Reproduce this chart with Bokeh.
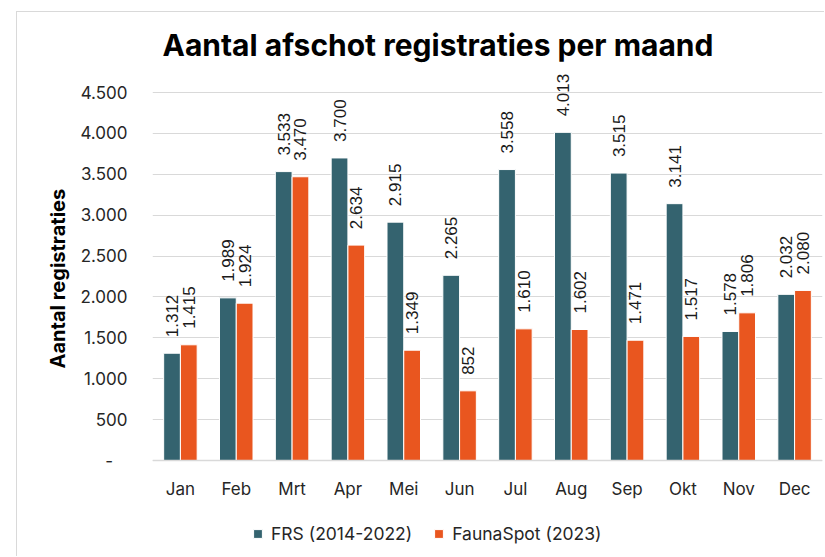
import math
from bokeh.plotting import figure
from bokeh.models import (ColumnDataSource, FactorRange, Range1d, FixedTicker,
                          CustomJSTickFormatter, LabelSet, Legend, LegendItem, Title)
from bokeh.core.properties import value
from bokeh.transform import dodge
from bokeh.embed import file_html
from bokeh.resources import INLINE

months = ["Jan", "Feb", "Mrt", "Apr", "Mei", "Jun", "Jul", "Aug", "Sep", "Okt", "Nov", "Dec"]
frs = [1312, 1989, 3533, 3700, 2915, 2265, 3558, 4013, 3515, 3141, 1578, 2032]
faunaspot = [1415, 1924, 3470, 2634, 1349, 852, 1610, 1602, 1471, 1517, 1806, 2080]
y_ticks = [0, 500, 1000, 1500, 2000, 2500, 3000, 3500, 4000, 4500]

series_names = ["FRS (2014-2022)", "FaunaSpot (2023)"]
title_text = "Aantal afschot registraties per maand"
y_title = "Aantal registraties"

TEAL = "#34636f"
ORANGE = "#e9561f"
FONT = "Inter"


def fmt(v):
    return f"{v:,}".replace(",", ".")


src = ColumnDataSource(dict(
    month=months, frs=frs, fauna=faunaspot,
    frs_lbl=[fmt(v) for v in frs], fauna_lbl=[fmt(v) for v in faunaspot],
))

# frame runs from just under the title down to the bottom of the canvas;
# value 0 sits where the category axis is drawn (fixed_location=0)
p = figure(x_range=FactorRange(factors=months), y_range=Range1d(-1186, 4855),
           width=808, height=545, output_backend="svg", toolbar_location=None,
           min_border_left=135, min_border_right=3, min_border_top=51, min_border_bottom=0,
           title=title_text)
p.margin = (11, 0, 0, 16)
p.styles = {"border-top": "1px solid #d9d9d9", "border-left": "1px solid #d9d9d9"}
p.outline_line_color = None
p.background_fill_color = "white"
p.border_fill_color = "white"

p.title.align = "left"
p.title.offset = 10
p.title.standoff = 1
p.title.text_font = FONT
p.title.text_font_style = "bold"
p.title.text_font_size = "30px"
p.title.text_color = "#000000"

r1 = p.vbar(x=dodge("month", -0.15, range=p.x_range), top="frs", width=0.3, source=src,
            fill_color=TEAL, line_color="white", line_width=1)
r2 = p.vbar(x=dodge("month", 0.15, range=p.x_range), top="fauna", width=0.3, source=src,
            fill_color=ORANGE, line_color="white", line_width=1)

for col, lbl, off in (("frs", "frs_lbl", -0.15), ("fauna", "fauna_lbl", 0.15)):
    ls = LabelSet(x=dodge("month", off, range=p.x_range), y=col, text=lbl, source=src,
                  angle=math.pi / 2, text_align="left", text_baseline="middle",
                  y_offset=16, text_font=value("Liberation Sans"), text_font_size="17px",
                  text_color="#1a1a1a")
    p.add_layout(ls)

# grid / axes
p.xgrid.grid_line_color = None
p.ygrid.ticker = FixedTicker(ticks=y_ticks)
p.ygrid.grid_line_color = "#d9d9d9"
p.ygrid.grid_line_width = 1

p.yaxis.ticker = FixedTicker(ticks=y_ticks)
p.yaxis.formatter = CustomJSTickFormatter(code=r"""
if (tick == 0) { return "-\u00a0\u00a0\u00a0"; }
return Math.round(tick).toString().replace(/\B(?=(\d{3})+(?!\d))/g, ".");
""")
p.yaxis.axis_line_color = None
p.yaxis.major_tick_line_color = None
p.yaxis.minor_tick_line_color = None
p.yaxis.major_label_standoff = 19
p.yaxis.major_label_text_font = FONT
p.yaxis.major_label_text_font_size = "17px"
p.yaxis.major_label_text_color = "#262626"

# y-axis title as a side title, so it can sit centred on the 0..4500 part
p.add_layout(Title(text=y_title, align="left", offset=189, vertical_align="middle",
                   standoff=14, text_font=FONT, text_font_style="bold",
                   text_font_size="20px", text_color="#000000"), "left")

p.xaxis.fixed_location = 0
p.xaxis.axis_line_color = "#d9d9d9"
p.xaxis.axis_line_width = 1.5
p.xaxis.major_tick_line_color = None
p.xaxis.minor_tick_line_color = None
p.xaxis.major_label_standoff = 12
p.xaxis.major_label_text_font = FONT
p.xaxis.major_label_text_font_size = "17px"
p.xaxis.major_label_text_color = "#262626"

# legend (inside the frame, under the category labels)
legend = Legend(items=[LegendItem(label=series_names[0], renderers=[r1]),
                       LegendItem(label=series_names[1], renderers=[r2])],
                orientation="horizontal", location=(100, 13),
                border_line_color=None, background_fill_alpha=0, padding=0, margin=0,
                spacing=21, glyph_width=11, glyph_height=11, label_standoff=8,
                label_text_font=FONT, label_text_font_size="17.5px", label_text_color="#262626")
p.add_layout(legend)

open("out.html", "w").write(file_html(p, INLINE))
